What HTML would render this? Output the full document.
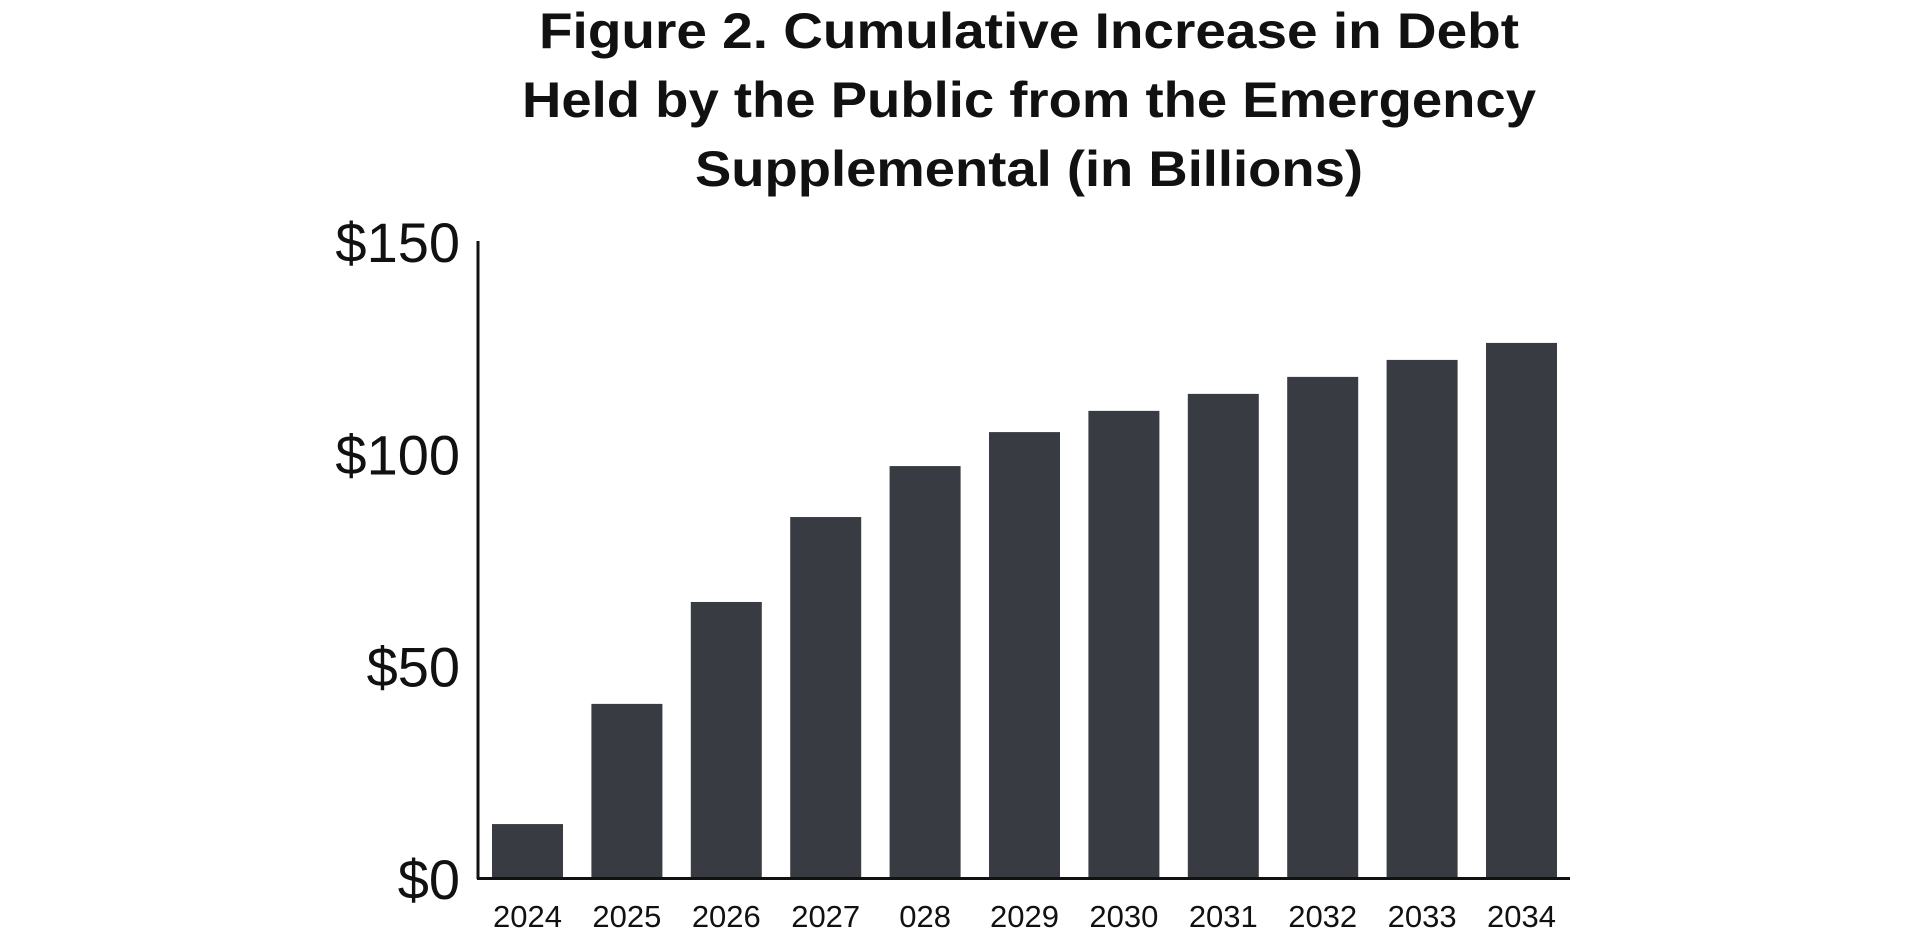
<!DOCTYPE html>
<html><head><meta charset="utf-8"><style>
html,body{margin:0;padding:0;background:#fff;}
svg{display:block;font-family:"Liberation Sans",sans-serif;}
</style></head><body>
<svg id="chart" width="1920" height="935" viewBox="0 0 1920 935">
<g font-weight="bold" font-size="50" fill="#111" text-anchor="middle">
<text x="1029" y="48" textLength="980" lengthAdjust="spacingAndGlyphs">Figure 2. Cumulative Increase in Debt</text>
<text x="1029" y="117" textLength="1014" lengthAdjust="spacingAndGlyphs">Held by the Public from the Emergency</text>
<text x="1029" y="186" textLength="668" lengthAdjust="spacingAndGlyphs">Supplemental (in Billions)</text>
</g>
<g id="bars"></g>
<g id="yticks"></g>
<g id="xticks"></g>
<line x1="478" y1="241" x2="478" y2="879" stroke="#111" stroke-width="3"/>
<line x1="477" y1="878.5" x2="1570" y2="878.5" stroke="#111" stroke-width="3"/>
</svg>
<script>
const categories = ["2024","2025","2026","2027","028","2029","2030","2031","2032","2033","2034"];
const values = [12.7, 41, 65, 85, 97, 105, 110, 114, 118, 122, 126];
const yTickValues = [0, 50, 100, 150];
const yTickLabels = ["$0", "$50", "$100", "$150"];

const NS = "http://www.w3.org/2000/svg";
const y0 = 878, yTop = 241, yMax = 150;
function yScale(v){ return y0 - (v / yMax) * (y0 - yTop); }
const firstLeft = 492, pitch = 99.4, barW = 71;
function xScale(i){ return firstLeft + i * pitch; }

const bars = document.getElementById("bars");
values.forEach((v, i) => {
  const r = document.createElementNS(NS, "rect");
  r.setAttribute("x", xScale(i));
  r.setAttribute("y", yScale(v));
  r.setAttribute("width", barW);
  r.setAttribute("height", y0 - yScale(v));
  r.setAttribute("fill", "#393b43");
  
  
  bars.appendChild(r);
});

const yt = document.getElementById("yticks");
yTickValues.forEach((v, i) => {
  const t = document.createElementNS(NS, "text");
  t.setAttribute("x", 460);
  t.setAttribute("y", yScale(v) + 21);
  t.setAttribute("text-anchor", "end");
  t.setAttribute("font-size", "56");
  t.setAttribute("fill", "#111");
  t.textContent = yTickLabels[i];
  
  
  yt.appendChild(t);
});

const xt = document.getElementById("xticks");
categories.forEach((c, i) => {
  const t = document.createElementNS(NS, "text");
  t.setAttribute("x", xScale(i) + barW / 2);
  t.setAttribute("y", 927);
  t.setAttribute("text-anchor", "middle");
  t.setAttribute("font-size", "31");
  t.setAttribute("fill", "#111");
  t.textContent = c;
  
  
  xt.appendChild(t);
});
</script>
</body></html>
